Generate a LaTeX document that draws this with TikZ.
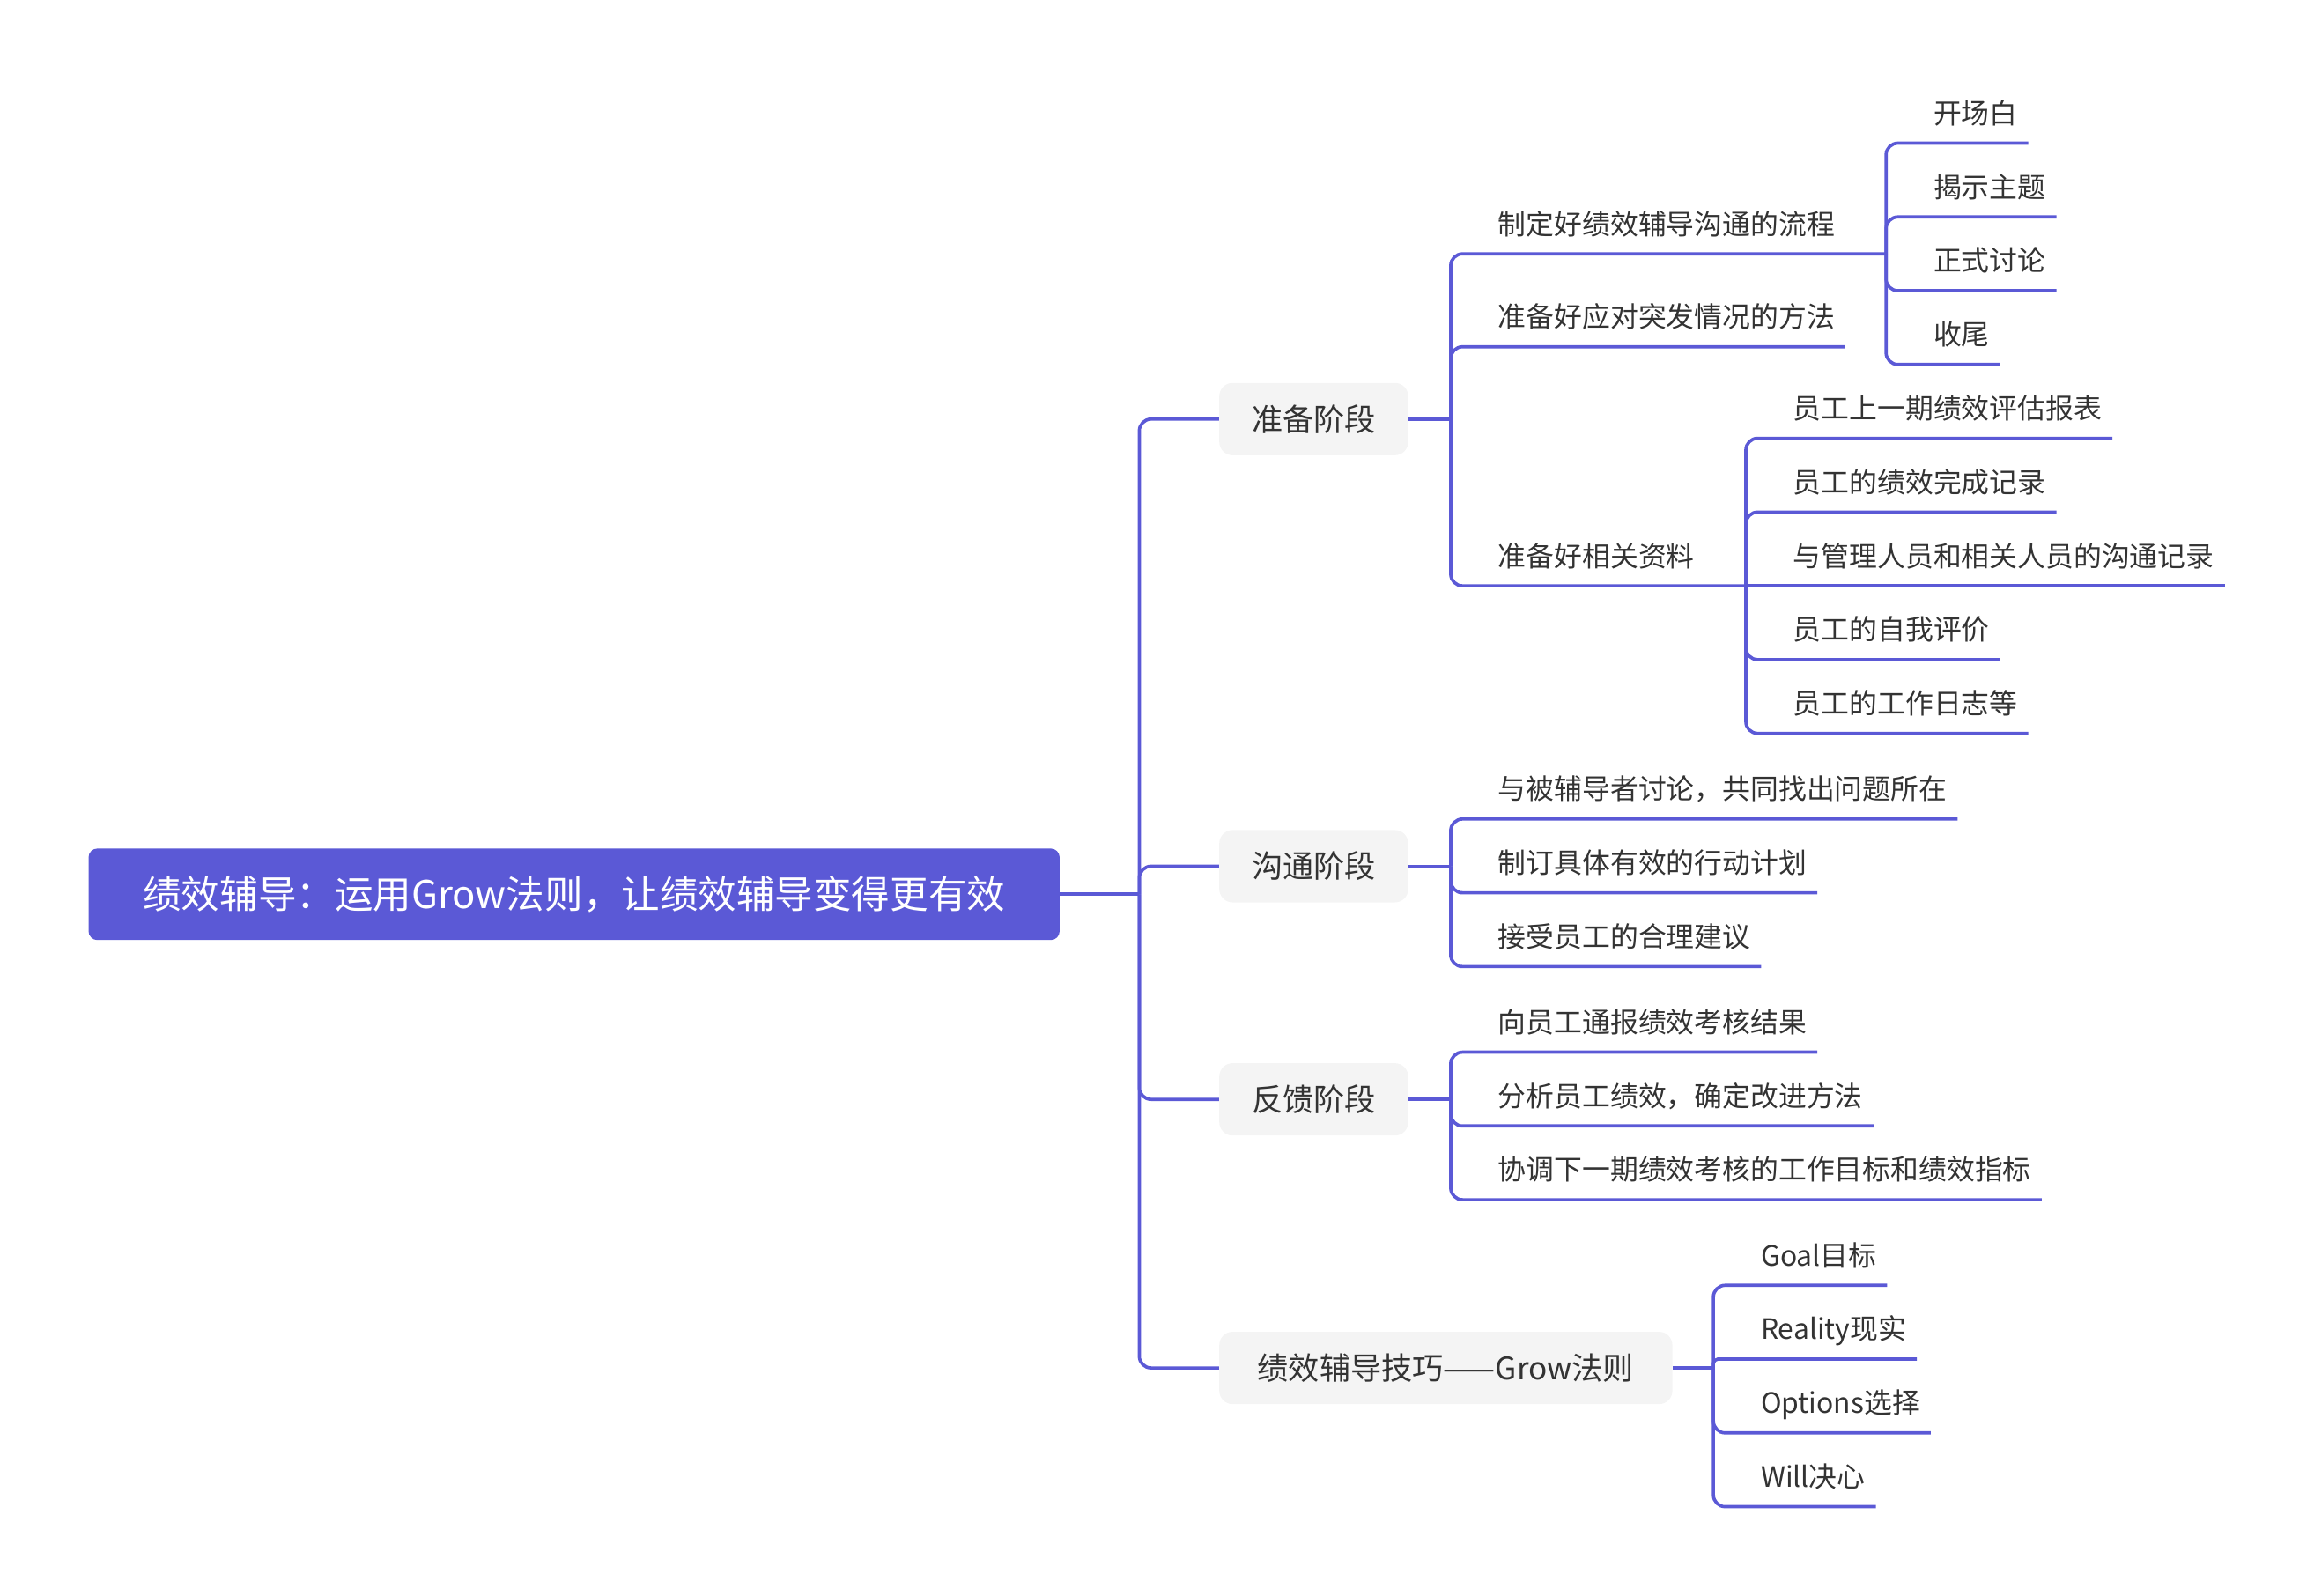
\documentclass[tikz,border=0pt]{standalone}
\usepackage{fontspec}
\setmainfont{Noto Sans CJK SC}
\definecolor{mainc}{HTML}{5B59D6}
\definecolor{txt}{HTML}{333333}
\definecolor{boxgray}{HTML}{F4F4F4}
\tikzset{
  conn/.style={draw=mainc, line width=2.2pt, rounded corners=8pt},
  rootnode/.style={fill=mainc, rounded corners=6pt, text=white, font=\fontsize{26}{30}\selectfont, minimum width=658pt, minimum height=62pt, inner sep=0pt},
  l1node/.style={fill=boxgray, rounded corners=9pt, text=txt, font=\fontsize{21}{25}\selectfont, minimum height=49pt, minimum width=128pt, inner xsep=21pt, inner ysep=0pt, anchor=west},
  leaf/.style={text=txt, font=\fontsize{19}{23}\selectfont, anchor=south west, inner xsep=7pt, inner ysep=0pt, text depth=13pt},
}
\begin{document}
\begin{tikzpicture}[x=1pt,y=-1pt]
\useasboundingbox (0,0) rectangle (1568,1081.5);
% root
\node[rootnode] (root) at (389,606) {绩效辅导：运用Grow法则，让绩效辅导变得更有效};
\coordinate (j0) at (772,606);
\draw[conn] (root.east) -- (j0);
% level 1
\node[l1node] (p1) at (826,284) {准备阶段};
\node[l1node] (p2) at (826,587) {沟通阶段};
\node[l1node] (p3) at (826,745) {反馈阶段};
\node[l1node, minimum width=307pt] (p4) at (826,927) {绩效辅导技巧——Grow法则};
\draw[conn] (j0) |- (p1.west);
\draw[conn] (j0) |- (p2.west);
\draw[conn] (j0) |- (p3.west);
\draw[conn] (j0) |- (p4.west);
% p1 children
\coordinate (j1) at (983,284);
\draw[conn] (p1.east) -- (j1);
\node[leaf] (a1) at (1008,172) {制定好绩效辅导沟通的流程};
\node[leaf] (a2) at (1008,235) {准备好应对突发情况的方法};
\node[leaf] (a3) at (1008,397) {准备好相关资料};
\coordinate (ja1) at (1278,172);
\coordinate (ja3) at (1183,397);
\draw[conn] (j1) |- (a1.south west) -- (ja1);
\draw[conn] (j1) |- (a2.south west) -- (a2.south east);
\draw[conn] (j1) |- (a3.south west) -- (ja3);
% a1 children
\node[leaf] (s1) at (1303,97) {开场白};
\node[leaf] (s2) at (1303,147) {揭示主题};
\node[leaf] (s3) at (1303,197) {正式讨论};
\node[leaf] (s4) at (1303,247) {收尾};
\foreach \n in {s1,s2,s3,s4}{
  \draw[conn] (ja1) |- (\n.south west) -- (\n.south east);
}
% a3 children
\node[leaf] (b1) at (1208,297) {员工上一期绩效评估报表};
\node[leaf] (b2) at (1208,347) {员工的绩效完成记录};
\node[leaf] (b3) at (1208,397) {与管理人员和相关人员的沟通记录};
\node[leaf] (b4) at (1208,447) {员工的自我评价};
\node[leaf] (b5) at (1208,497) {员工的工作日志等};
\foreach \n in {b1,b2,b4,b5}{
  \draw[conn] (ja3) |- (\n.south west) -- (\n.south east);
}
\draw[conn] (ja3) -- (b3.south west) -- (b3.south east);
% p2 children
\coordinate (j2) at (983,587);
\draw[conn] (p2.east) -- (j2);
\node[leaf] (c1) at (1008,555) {与被辅导者讨论，共同找出问题所在};
\node[leaf] (c2) at (1008,605) {制订具体有效的行动计划};
\node[leaf] (c3) at (1008,655) {接受员工的合理建议};
\foreach \n in {c1,c2,c3}{
  \draw[conn] (j2) |- (\n.south west) -- (\n.south east);
}
% p3 children
\coordinate (j3) at (983,745);
\draw[conn] (p3.east) -- (j3);
\node[leaf] (d1) at (1008,713) {向员工通报绩效考核结果};
\node[leaf] (d2) at (1008,763) {分析员工绩效，确定改进方法};
\node[leaf] (d3) at (1008,813) {协调下一期绩效考核的工作目标和绩效指标};
\foreach \n in {d1,d2,d3}{
  \draw[conn] (j3) |- (\n.south west) -- (\n.south east);
}
% p4 children
\coordinate (j4) at (1161,927);
\draw[conn] (p4.east) -- (j4);
\node[leaf] (e1) at (1186,871) {Goal目标};
\node[leaf] (e2) at (1186,921) {Reality现实};
\node[leaf] (e3) at (1186,971) {Options选择};
\node[leaf] (e4) at (1186,1021) {Will决心};
\draw[conn] (j4) |- (e1.south west) -- (e1.south east);
\draw[conn, rounded corners=3pt] (j4) |- (e2.south west) -- (e2.south east);
\draw[conn] (j4) |- (e3.south west) -- (e3.south east);
\draw[conn] (j4) |- (e4.south west) -- (e4.south east);
\end{tikzpicture}
\end{document}
